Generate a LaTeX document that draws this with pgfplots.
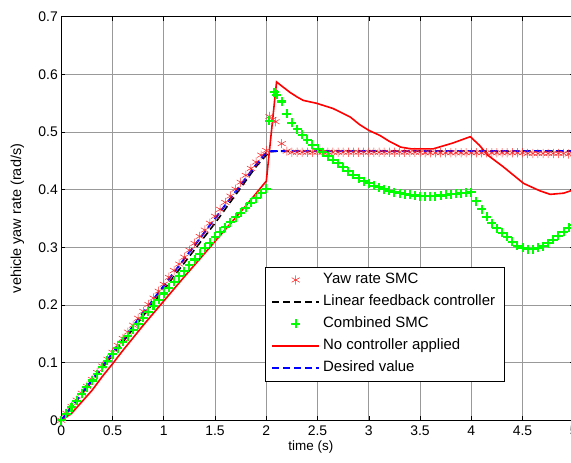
\documentclass[border=0pt]{standalone}
\usepackage{fontspec}
\setmainfont{Liberation Sans}
\usepackage{pgfplots}
\pgfplotsset{compat=1.18}

\begin{document}
\begin{tikzpicture}
\begin{axis}[
    at={(0,0)}, anchor=south west,
    width=512.5bp, height=403.5bp, scale only axis,
    xmin=0, xmax=5, ymin=0, ymax=0.7,
    xtick={0,0.5,1,1.5,2,2.5,3,3.5,4,4.5,5},
    ytick={0,0.1,0.2,0.3,0.4,0.5,0.6,0.7},
    /pgf/number format/assume math mode=true,
    ticklabel style={font=\fontsize{14}{16}\selectfont},
    xticklabel style={yshift=-2bp},
    grid=major,
    major grid style={black!40, line width=0.8bp},
    tick align=inside, major tick length=4bp,
    tick style={black, line width=0.6bp},
    axis line style={line width=1bp},
    xlabel={time (s)},
    ylabel={vehicle yaw rate (rad/s)},
    xlabel style={font=\fontsize{13.5}{15}\selectfont,
        at={([yshift=-27bp]axis description cs:0.487,0)}, anchor=center},
    ylabel style={font=\fontsize{14.5}{16}\selectfont,
        at={([xshift=-44bp]axis description cs:0,0.5)}, anchor=center},
    legend image code/.code={\draw[mark repeat=2,mark phase=2]
        plot coordinates {(0bp,0bp) (23.5bp,0bp) (47bp,0bp)};},
    legend cell align=left,
    legend style={at={(axis description cs:0.397,0.381)}, anchor=north west,
        draw=black, line width=0.8bp, fill=white,
        font=\fontsize{15}{17}\selectfont,
        nodes={text height=11bp, text depth=3.5bp, inner ysep=3.75bp, inner xsep=3bp},
        inner xsep=6bp, inner ysep=2bp},
]
% Yaw rate SMC
\addplot[only marks, mark=asterisk, mark size=4.6bp, color=red!85, line width=0.55bp] coordinates {
(0.00,0.000) (0.05,0.012) (0.10,0.024) (0.15,0.035) (0.20,0.047) (0.25,0.059)
(0.30,0.071) (0.35,0.083) (0.40,0.094) (0.45,0.106) (0.50,0.118) (0.55,0.130)
(0.60,0.142) (0.65,0.153) (0.70,0.165) (0.75,0.177) (0.80,0.189) (0.85,0.201)
(0.90,0.212) (0.95,0.224) (1.00,0.236) (1.05,0.248) (1.10,0.260) (1.15,0.271)
(1.20,0.283) (1.25,0.295) (1.30,0.307) (1.35,0.319) (1.40,0.330) (1.45,0.342)
(1.50,0.354) (1.55,0.366) (1.60,0.378) (1.65,0.389) (1.70,0.401) (1.75,0.413)
(1.80,0.425) (1.85,0.437) (1.90,0.448) (1.95,0.460) (2.00,0.468) (2.03,0.527)
(2.06,0.522) (2.09,0.518) (2.15,0.480) (2.20,0.467) (2.25,0.465) (2.30,0.465)
(2.35,0.465) (2.40,0.465) (2.45,0.465) (2.50,0.465) (2.55,0.465) (2.60,0.465)
(2.65,0.465) (2.70,0.465) (2.75,0.465) (2.80,0.465) (2.85,0.465) (2.90,0.465)
(2.95,0.465) (3.00,0.465) (3.05,0.465) (3.10,0.465) (3.15,0.465) (3.20,0.465)
(3.25,0.465) (3.30,0.465) (3.35,0.465) (3.40,0.465) (3.45,0.465) (3.50,0.465)
(3.55,0.464) (3.60,0.464) (3.65,0.464) (3.70,0.464) (3.75,0.464) (3.80,0.464)
(3.85,0.464) (3.90,0.464) (3.95,0.464) (4.00,0.464) (4.05,0.464) (4.10,0.464)
(4.15,0.464) (4.20,0.464) (4.25,0.464) (4.30,0.464) (4.35,0.464) (4.40,0.464)
(4.45,0.464) (4.50,0.464) (4.55,0.463) (4.60,0.463) (4.65,0.463) (4.70,0.463)
(4.75,0.463) (4.80,0.463) (4.85,0.463) (4.90,0.463) (4.95,0.462) (5.00,0.462)
};
% Linear feedback controller
\addplot[black, line width=1.6bp, dash pattern=on 7bp off 4bp] coordinates {
(0,0) (0.5,0.113) (1,0.227) (1.5,0.342) (1.9,0.440) (2.0,0.460) (2.05,0.466) (2.1,0.467) (5,0.467)
};
% Combined SMC
\addplot[only marks, mark=+, mark size=4.5bp, color=green, line width=2.1bp] coordinates {
(0.00,0.000) (0.05,0.011) (0.10,0.023) (0.15,0.034) (0.20,0.046) (0.25,0.057)
(0.30,0.069) (0.35,0.080) (0.40,0.092) (0.45,0.103) (0.50,0.115) (0.55,0.125)
(0.60,0.136) (0.65,0.146) (0.70,0.157) (0.75,0.167) (0.80,0.178) (0.85,0.188)
(0.90,0.199) (0.95,0.209) (1.00,0.220) (1.05,0.230) (1.10,0.240) (1.15,0.250)
(1.20,0.259) (1.25,0.269) (1.30,0.279) (1.35,0.289) (1.40,0.299) (1.45,0.308)
(1.50,0.318) (1.55,0.327) (1.60,0.335) (1.65,0.344) (1.70,0.352) (1.75,0.360)
(1.80,0.369) (1.85,0.377) (1.90,0.385) (1.95,0.394) (2.00,0.402) (2.03,0.520)
(2.08,0.569) (2.10,0.565) (2.15,0.553) (2.20,0.532) (2.25,0.516) (2.30,0.505)
(2.35,0.495) (2.40,0.487) (2.45,0.478) (2.50,0.471) (2.55,0.465) (2.60,0.458)
(2.65,0.452) (2.70,0.446) (2.75,0.439) (2.80,0.432) (2.85,0.426) (2.90,0.420)
(2.95,0.415) (3.00,0.411) (3.05,0.407) (3.10,0.404) (3.15,0.401) (3.20,0.398)
(3.25,0.396) (3.30,0.394) (3.35,0.392) (3.40,0.391) (3.45,0.390) (3.50,0.389)
(3.55,0.389) (3.60,0.389) (3.65,0.389) (3.70,0.390) (3.75,0.391) (3.80,0.392)
(3.85,0.393) (3.90,0.394) (3.95,0.395) (4.00,0.396) (4.05,0.380) (4.10,0.366)
(4.15,0.353) (4.20,0.342) (4.25,0.333) (4.30,0.325) (4.35,0.318) (4.40,0.310)
(4.45,0.303) (4.50,0.299) (4.55,0.297) (4.60,0.297) (4.65,0.299) (4.70,0.302)
(4.75,0.307) (4.80,0.313) (4.85,0.320) (4.90,0.327) (4.95,0.334) (5.00,0.339)
};
% No controller applied
\addplot[red, line width=1.6bp] coordinates {
(0,0) (0.1,0.012) (0.2,0.032) (0.3,0.052) (0.4,0.076) (0.5,0.098) (0.6,0.121)
(0.7,0.143) (0.8,0.165) (0.9,0.186) (1.0,0.207) (1.2,0.249) (1.4,0.290)
(1.6,0.331) (1.8,0.372) (2.0,0.415) (2.1,0.587) (2.15,0.580) (2.23,0.569)
(2.3,0.561) (2.36,0.555) (2.49,0.550) (2.65,0.541) (2.82,0.526) (2.91,0.513)
(3.0,0.503) (3.11,0.494) (3.2,0.484) (3.31,0.474) (3.41,0.471) (3.63,0.471)
(3.82,0.481) (3.99,0.492) (4.08,0.477) (4.16,0.460) (4.31,0.440) (4.51,0.411)
(4.67,0.398) (4.77,0.392) (4.9,0.394) (5.0,0.400)
};
% Desired value
\addplot[blue, line width=2bp, dash pattern=on 7bp off 4bp] coordinates {
(0,0) (1.95,0.455) (2.0,0.464) (2.05,0.467) (5,0.467)
};
\legend{Yaw rate SMC, Linear feedback controller, Combined SMC, No controller applied, Desired value}
\end{axis}
\pgfresetboundingbox
\useasboundingbox (-61.3bp,-42.7bp) rectangle (509.7bp,420.3bp);
\end{tikzpicture}
\end{document}
